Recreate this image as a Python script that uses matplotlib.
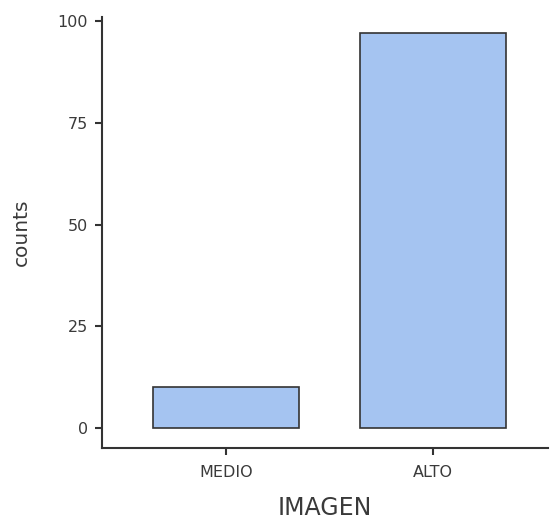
import matplotlib.pyplot as plt

categories = ['MEDIO', 'ALTO']
counts = [10, 97]

plt.rcParams['font.family'] = ['DejaVu Sans']

fig = plt.figure(figsize=(5.5, 5.23), dpi=100)
ax = fig.add_axes([0.1855, 0.1434, 0.8105, 0.8241])

ax.bar(range(len(categories)), counts, width=0.705, color='#a5c4f1',
       edgecolor='#333333', linewidth=1.2)

ax.set_xlim(-0.6, 1.555)
ax.set_ylim(-4.9, 101)
ax.set_yticks([0, 25, 50, 75, 100])
ax.set_xticks(range(len(categories)))
ax.set_xticklabels(categories)

for s in ['top', 'right']:
    ax.spines[s].set_visible(False)
for s in ['left', 'bottom']:
    ax.spines[s].set_color('#333333')
    ax.spines[s].set_linewidth(1.5)

ax.tick_params(axis='both', colors='#333333', labelcolor='#3a3a3a', length=5,
               width=1.5, labelsize=11.5)
ax.tick_params(axis='y', pad=5)
ax.tick_params(axis='x', pad=7)
ax.set_ylabel('counts', fontsize=14.5, color='#3a3a3a', labelpad=19)
ax.set_xlabel('IMAGEN', fontsize=17, color='#3a3a3a', labelpad=12)

fig.savefig('out.png', dpi=100)
